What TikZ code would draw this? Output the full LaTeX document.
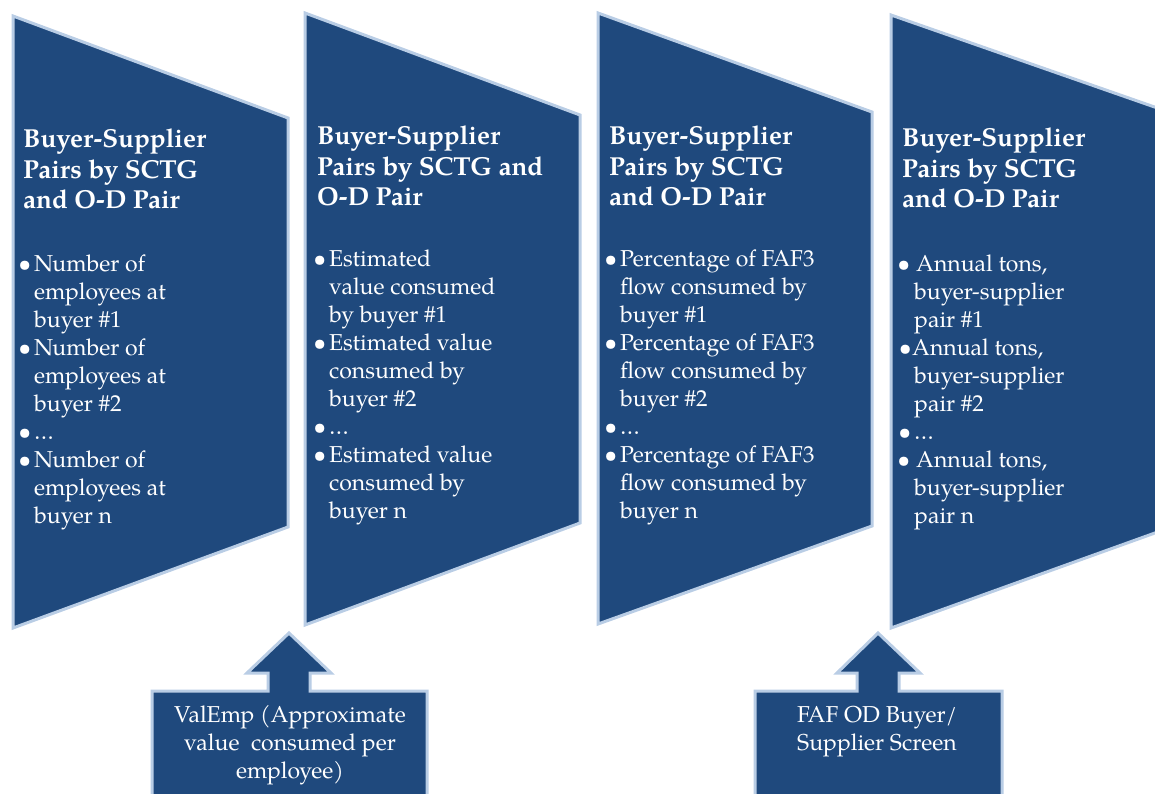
\documentclass[tikz,border=0pt]{standalone}
\usepackage{fontspec}
\setmainfont{TeX Gyre Pagella}
\definecolor{fillblue}{RGB}{31,73,125}
\definecolor{edgeblue}{RGB}{185,205,229}
\tikzset{
  panel/.style={fill=fillblue, draw=edgeblue, line width=3pt, line join=miter},
  ttl/.style={anchor=base west, align=left, text=white, inner sep=0pt,
    font=\fontsize{26}{30.5}\selectfont\bfseries},
  bodytxt/.style={anchor=base west, align=left, text=white, inner sep=0pt,
    font=\fontsize{23}{28}\selectfont},
  boxtxt/.style={anchor=base, align=center, text=white, inner sep=0pt,
    font=\fontsize{23}{28}\selectfont},
}
\newcommand\bul[1][3pt]{\makebox[0pt][r]{\textbullet\hspace{#1}}}
\begin{document}
\begin{tikzpicture}[x=1pt,y=-1pt]
\useasboundingbox (0,0) rectangle (1155,794);
\clip (0,0) rectangle (1155,794);
% panels
\draw[panel] (13,16) -- (288,118) -- (288,527) -- (13,628) -- cycle;
\draw[panel] (305,13) -- (580,115) -- (580,523) -- (305,625) -- cycle;
\draw[panel] (598,13) -- (872,112) -- (872,526) -- (598,624) -- cycle;
\draw[panel] (891,15) -- (1166,111) -- (1166,529) -- (891,628) -- cycle;
% input boxes with arrows
\draw[panel] (152,691) -- (268,691) -- (268,673) -- (247,673) -- (289,633)
  -- (331,673) -- (310,673) -- (310,691) -- (427,691) -- (427,810) -- (152,810) -- cycle;
\draw[panel] (755,691) -- (857,691) -- (857,673) -- (837,673) -- (878,633)
  -- (920,673) -- (899,673) -- (899,691) -- (1002,691) -- (1002,810) -- (755,810) -- cycle;
% titles (anchor = baseline of last line)
\node[ttl] (t1) at (23,209) {Buyer-Supplier\\Pairs by SCTG\\and O-D Pair};
\node[ttl] (t2) at (317,206) {Buyer-Supplier\\Pairs by SCTG and\\O-D Pair};
\node[ttl] (t3) at (609,206) {Buyer-Supplier\\Pairs by SCTG\\and O-D Pair};
\node[ttl] (t4) at (902,208) {Buyer-Supplier\\Pairs by SCTG\\and O-D Pair};
% bodies
\node[bodytxt] (b1) at (34,523) {\bul Number of\\employees at\\buyer \#1\\
  \bul Number of\\employees at\\buyer \#2\\\bul …\\
  \bul Number of\\employees at\\buyer n};
\node[bodytxt] (b2) at (329,518) {\bul Estimated\\value consumed\\by buyer \#1\\
  \bul Estimated value\\consumed by\\buyer \#2\\\bul …\\
  \bul Estimated value\\consumed by\\buyer n};
\node[bodytxt] (b3) at (620,518) {\bul Percentage of FAF3\\flow consumed by\\buyer \#1\\
  \bul Percentage of FAF3\\flow consumed by\\buyer \#2\\\bul …\\
  \bul Percentage of FAF3\\flow consumed by\\buyer n};
\node[bodytxt] (b4) at (914,523) {\bul[4pt]\hspace{2pt}Annual tons,\\buyer-supplier\\pair \#1\\
  \hspace{-2pt}\bul[0.5pt]Annual tons,\\buyer-supplier\\pair \#2\\\bul …\\
  \bul[4pt]\hspace{2pt}Annual tons,\\buyer-supplier\\pair n};
% box texts
\node[boxtxt] (v1) at (290,778) {ValEmp (Approximate\\value\ \ consumed per\\employee)};
\node[boxtxt] (v2) at (877,750) {FAF OD Buyer/\\Supplier Screen};
\end{tikzpicture}
\end{document}
